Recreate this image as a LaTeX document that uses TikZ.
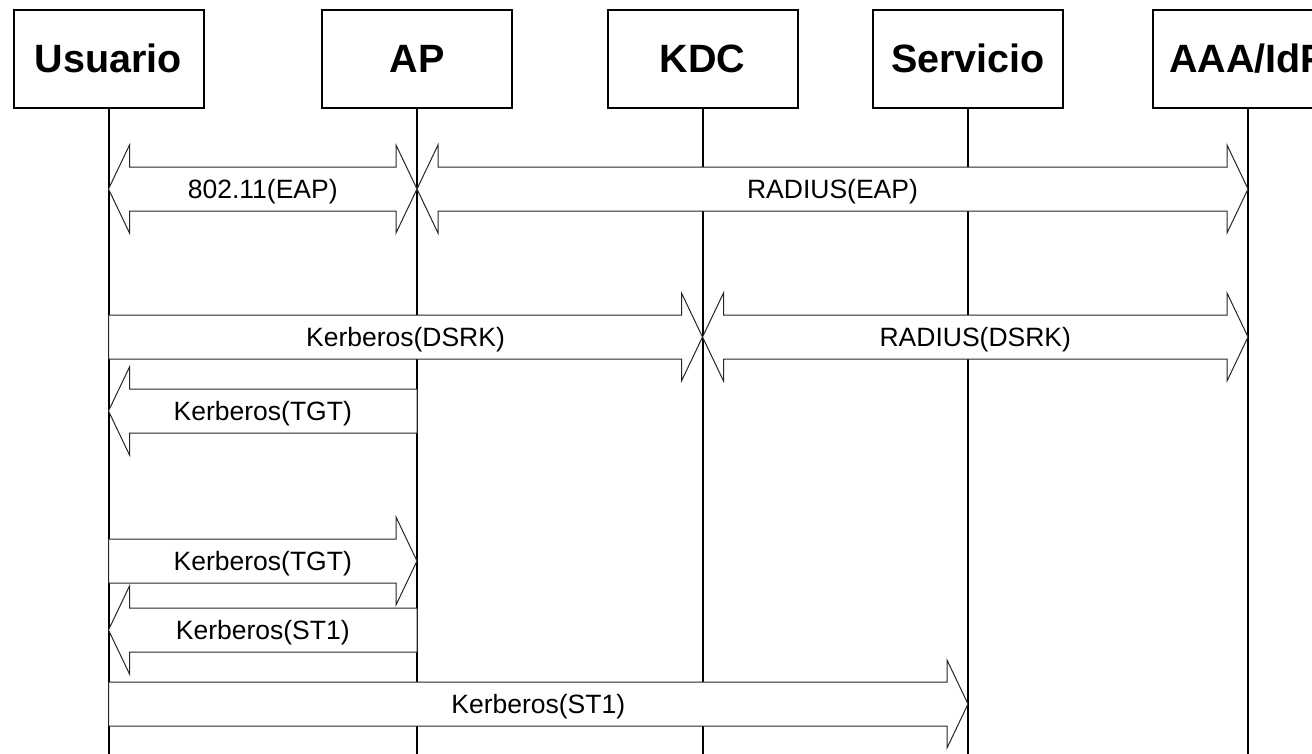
\documentclass[tikz,border=0pt]{standalone}
\usepackage{fontspec}
\setmainfont{Liberation Sans}
\usetikzlibrary{calc}
\tikzset{
  hdr/.style={draw, line width=2pt, fill=white, minimum width=190pt, minimum height=98pt,
    inner sep=0pt, font=\fontsize{39.5}{40}\selectfont\bfseries, text height=26pt, text depth=0pt},
  life/.style={line width=2pt},
  blk/.style={draw=black!85, line width=1pt, fill=white, line join=miter},
  lbl/.style={font=\fontsize{26.5}{28}\selectfont, anchor=base, inner sep=0pt},
}
% single block arrow: tail node, tip node, row y (px from top), label
\newcommand\msgS[4]{%
  \path[blk] let \p1=(#1.center), \p2=(#2.center), \n1={sign(\x2-\x1)*21} in
    ({\x1},{-(#3-22)*1pt}) -- ({\x2-\n1*1pt},{-(#3-22)*1pt}) -- ({\x2-\n1*1pt},{-(#3-44)*1pt})
    -- ({\x2},{-#3*1pt}) -- ({\x2-\n1*1pt},{-(#3+44)*1pt}) -- ({\x2-\n1*1pt},{-(#3+22)*1pt})
    -- ({\x1},{-(#3+22)*1pt}) -- cycle
    node[lbl] at ({(\x1+\x2)/2},{-(#3+9.5)*1pt}) {#4};
}
% double block arrow: left node, right node, row y, label
\newcommand\msgD[4]{%
  \path[blk] let \p1=(#1.center), \p2=(#2.center) in
    ({\x1},{-#3*1pt}) -- ({\x1+21pt},{-(#3-44)*1pt}) -- ({\x1+21pt},{-(#3-22)*1pt})
    -- ({\x2-21pt},{-(#3-22)*1pt}) -- ({\x2-21pt},{-(#3-44)*1pt}) -- ({\x2},{-#3*1pt})
    -- ({\x2-21pt},{-(#3+44)*1pt}) -- ({\x2-21pt},{-(#3+22)*1pt}) -- ({\x1+21pt},{-(#3+22)*1pt})
    -- ({\x1+21pt},{-(#3+44)*1pt}) -- cycle
    node[lbl] at ({(\x1+\x2)/2},{-(#3+9.5)*1pt}) {#4};
}
\begin{document}
\begin{tikzpicture}[x=1pt,y=1pt]
  \fill[white] (0,0) rectangle (1312,-753);
  \useasboundingbox (0,0) rectangle (1312,-753);
  \coordinate (bot) at (0,-760);
  % lifelines
  \node[hdr] (u)   at (108.5,-59) {Usuario};
  \node[hdr] (ap)  at (417,-59)   {AP};
  \node[hdr] (kdc) at (702.5,-59) {KDC};
  \node[hdr] (srv) at (968,-59)   {Servicio};
  \node[hdr] (aaa) at (1248,-59)  {AAA/IdP};
  \foreach \n in {u,ap,kdc,srv,aaa}{
    \draw[life] (\n.south) -- (\n.south |- bot);
  }
  % messages
  \msgD{u}{ap}{189}{802.11(EAP)}
  \msgD{ap}{aaa}{189}{RADIUS(EAP)}
  \msgS{u}{kdc}{337}{Kerberos(DSRK)}
  \msgD{kdc}{aaa}{337}{RADIUS(DSRK)}
  \msgS{ap}{u}{411}{Kerberos(TGT)}
  \msgS{u}{ap}{561}{Kerberos(TGT)}
  \msgS{ap}{u}{630}{Kerberos(ST1)}
  \msgS{u}{srv}{704}{Kerberos(ST1)}
\end{tikzpicture}
\end{document}
